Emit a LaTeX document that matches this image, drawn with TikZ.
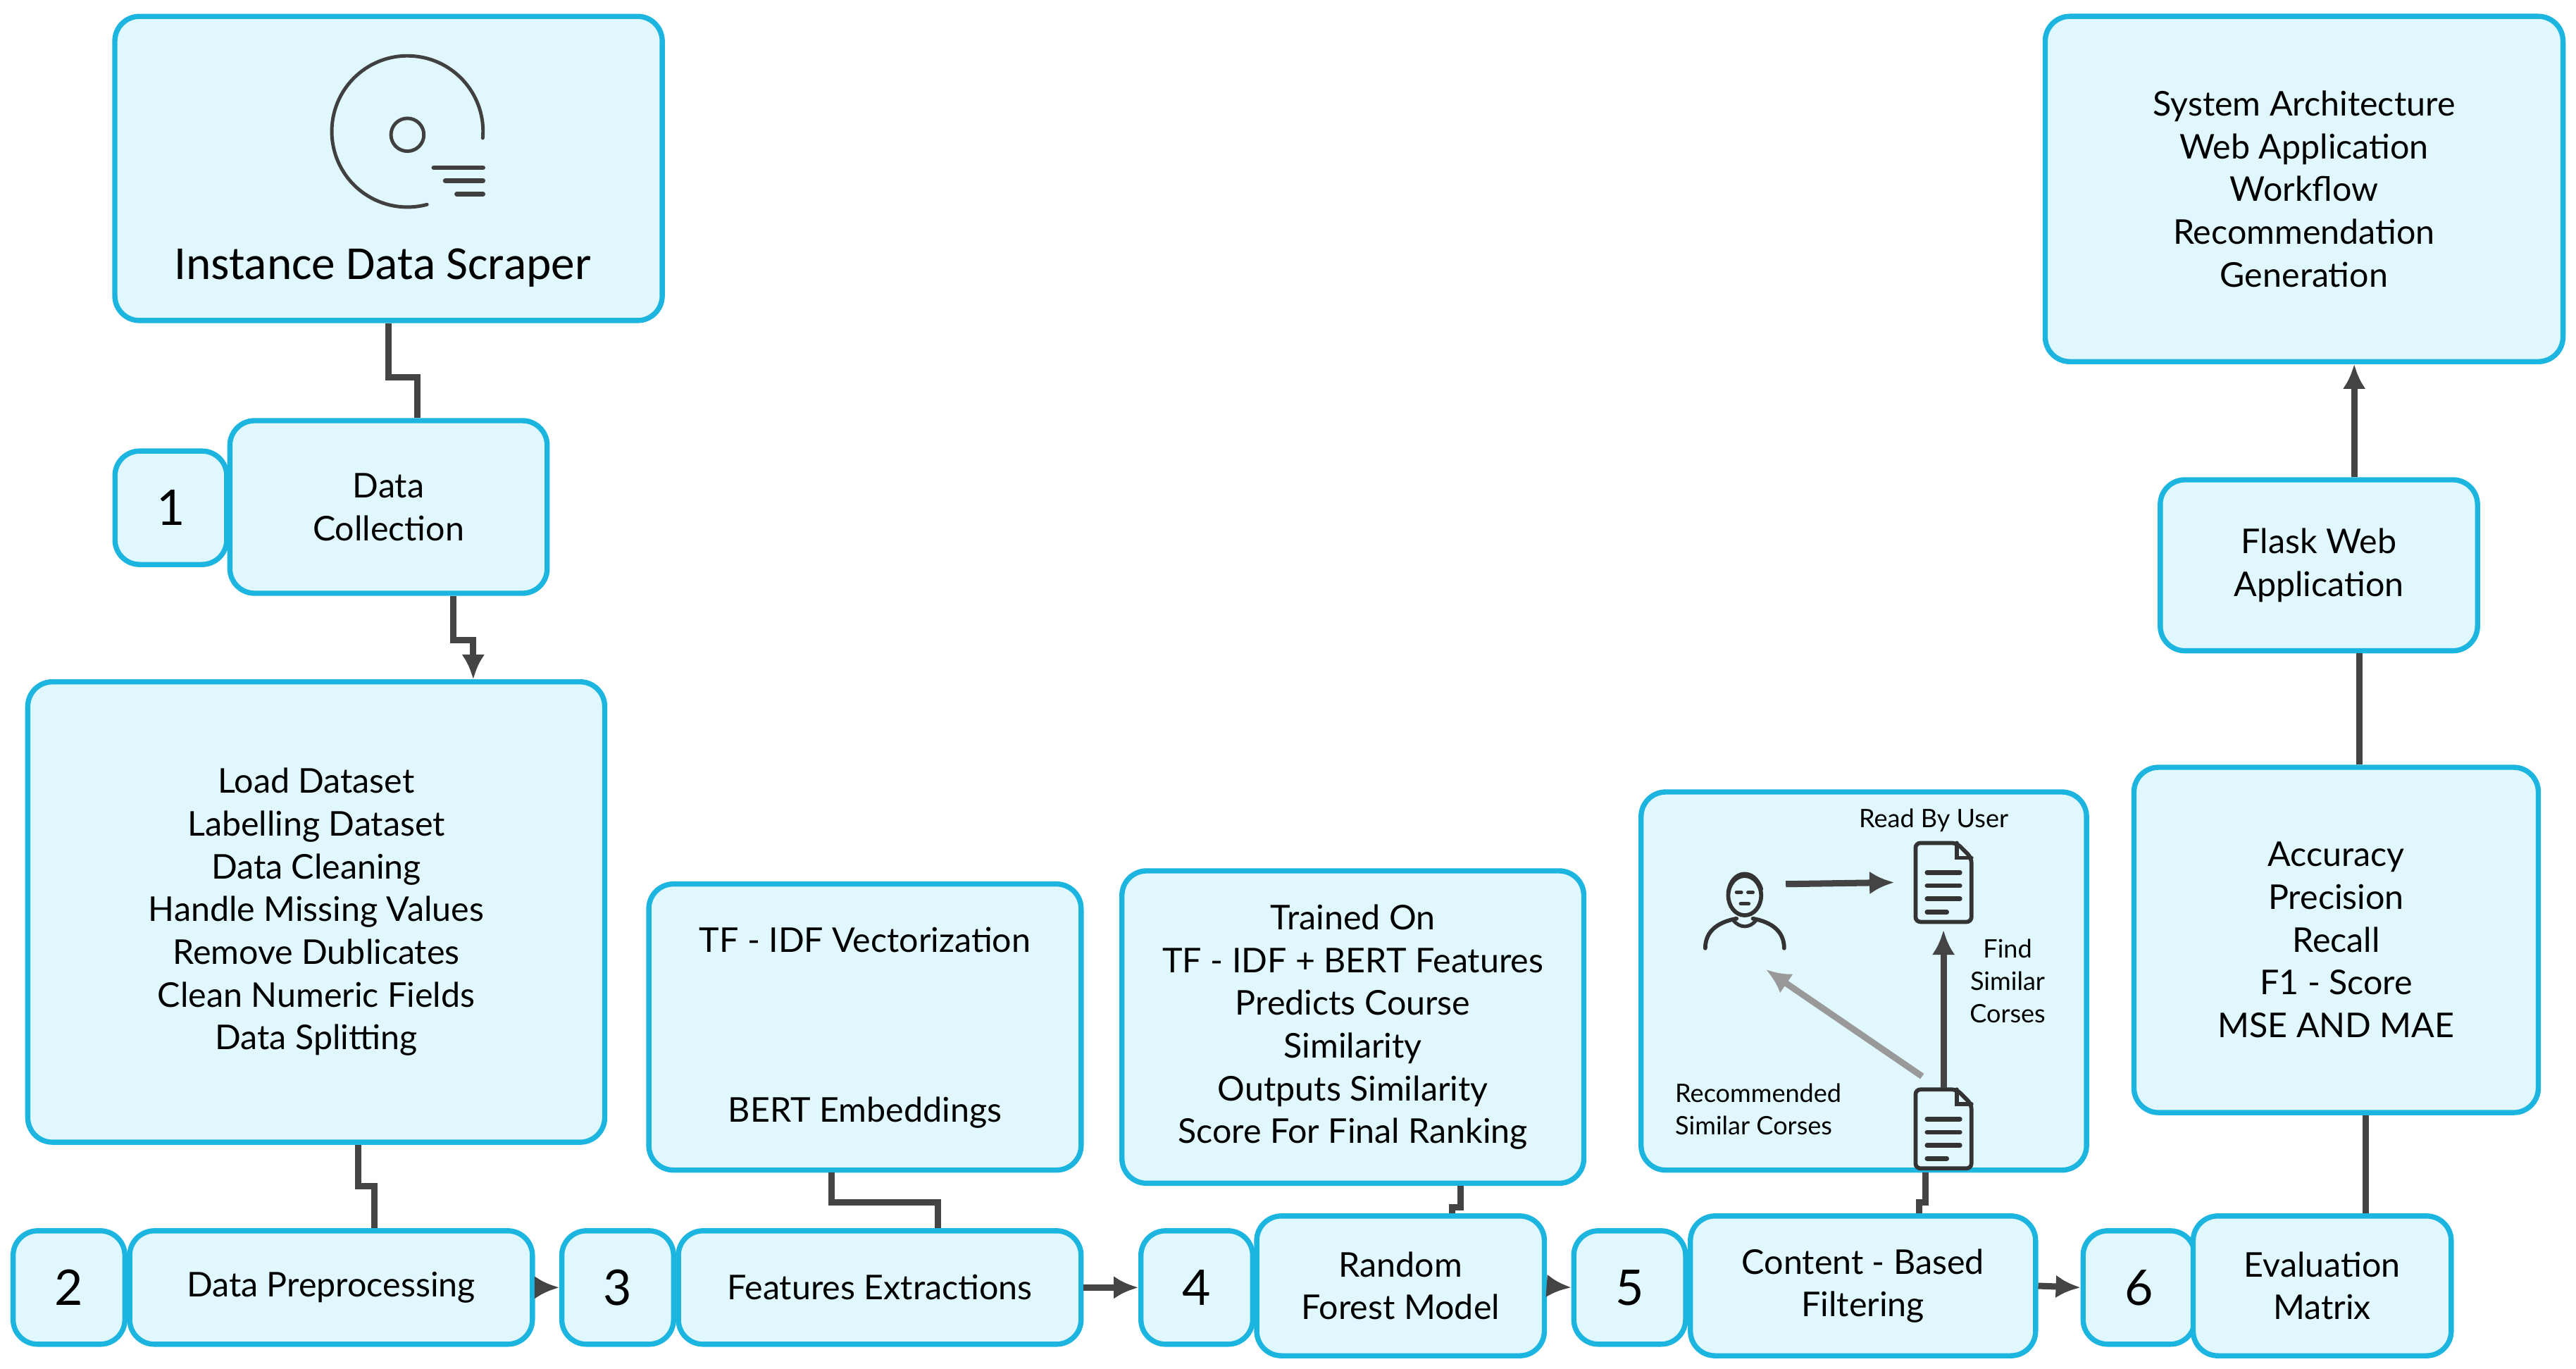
\documentclass[tikz,border=0pt]{standalone}
\usepackage{fontspec}
\setmainfont{Lato}
\newfontfamily\scrfont{Carlito}
\usetikzlibrary{arrows.meta,positioning}
\definecolor{boxline}{HTML}{1BB5E0}
\definecolor{boxfill}{HTML}{E0F7FD}
\definecolor{linkgray}{HTML}{444444}
\tikzset{
  box/.style={draw=boxline,fill=boxfill,line width=0.9pt,rounded corners=0.15cm,align=center,
    font=\fontsize{5.9pt}{7.4pt}\selectfont,inner sep=0pt},
  num/.style={box,minimum width=0.68cm,minimum height=0.69cm,font=\fontsize{8.5pt}{10pt}\selectfont},
  link/.style={draw=linkgray,line width=1.1pt},
  arr/.style={link,-{Latex[length=0.15cm,width=0.14cm]}},
  icon/.style={draw=black!80,line width=0.6pt,line cap=round},
  small/.style={font=\fontsize{4.4pt}{5.6pt}\selectfont,align=center,inner sep=0pt}
}
\newcommand{\docicon}{%
  \draw[icon,line width=0.7pt,rounded corners=0.03cm] (-0.17,-0.24) -- (-0.17,0.24) -- (0.08,0.24) -- (0.17,0.15) -- (0.17,-0.24) -- cycle;
  \draw[icon,line width=0.7pt] (0.08,0.24) -- (0.08,0.15) -- (0.17,0.15);
  \foreach \y in {0.06,-0.02,-0.10} {\draw[icon,line width=0.8pt] (-0.1,\y) -- (0.1,\y);}
  \draw[icon,line width=0.8pt] (-0.1,-0.18) -- (0.02,-0.18);
}
\begin{document}
\begin{tikzpicture}[x=0.01cm,y=-0.01cm]
\useasboundingbox (0,0) rectangle (1568,833);
% top left
\node[box,minimum width=3.33cm,minimum height=1.85cm] (scr) at (236.5,102.5) {};
\node[font=\scrfont\fontsize{8.2pt}{10pt}\selectfont] (scrtxt) at (233,163) {Instance Data Scraper};
\begin{scope}[shift={(248,80)},x=1cm,y=1cm]
\draw[icon,draw=black!75] (-5:0.46) arc (-5:285:0.46);
\draw[icon,draw=black!75] (0,-0.02) circle (0.1);
\draw[icon,draw=black!75,line width=0.8pt] (0.16,-0.22) -- (0.46,-0.22) (0.23,-0.30) -- (0.46,-0.30) (0.30,-0.38) -- (0.46,-0.38);
\end{scope}
\node[num] (n1) at (104,309) {1};
\node[box,minimum width=1.93cm,minimum height=1.05cm] (col) at (236.5,308.5) {Data\\Collection};
\node[box,minimum width=3.51cm,minimum height=2.80cm] (pre) at (192.5,555) {Load Dataset\\Labelling Dataset\\Data Cleaning\\Handle Missing Values\\Remove Dublicates\\Clean Numeric Fields\\Data Splitting};
% bottom row
\node[num] (n2) at (42,783.5) {2};
\node[box,minimum width=2.45cm,minimum height=0.69cm] (dp) at (201.5,783.5) {Data Preprocessing};
\node[num] (n3) at (376,783.5) {3};
\node[box,minimum width=2.45cm,minimum height=0.69cm] (fe) at (535.5,783.5) {Features Extractions};
\node[num] (n4) at (728.5,783.5) {4};
\node[box,minimum width=1.75cm,minimum height=0.85cm] (rf) at (852.5,782.5) {Random\\Forest Model};
\node[num] (n5) at (992,783.5) {5};
\node[box,minimum width=2.10cm,minimum height=0.85cm] (cb) at (1134,782.5) {Content - Based\\Filtering};
\node[num] (n6) at (1302,783.5) {6};
\node[box,minimum width=1.57cm,minimum height=0.85cm] (ev) at (1413.5,782.5) {Evaluation\\Matrix};
% middle boxes
\node[box,minimum width=2.63cm,minimum height=1.74cm] (tf) at (526.5,625) {};
\node[font=\fontsize{5.9pt}{7.4pt}\selectfont] (tfa) at (526.5,572) {TF - IDF Vectorization};
\node[font=\fontsize{5.9pt}{7.4pt}\selectfont] (tfb) at (526.5,677) {BERT Embeddings};
\node[box,minimum width=2.81cm,minimum height=1.90cm] (tr) at (823.5,625) {Trained On\\TF - IDF + BERT Features\\Predicts Course\\Similarity\\Outputs Similarity\\Score For Final Ranking};
\node[box,minimum width=2.71cm,minimum height=2.30cm] (cf) at (1134.5,597) {};
\node[box,minimum width=2.46cm,minimum height=2.10cm] (me) at (1422,572) {Accuracy\\Precision\\Recall\\F1 - Score\\MSE AND MAE};
\node[box,minimum width=1.93cm,minimum height=1.04cm] (fl) at (1411.5,344) {Flask Web\\Application};
\node[box,minimum width=3.15cm,minimum height=2.10cm] (sy) at (1402.5,115) {System Architecture\\Web Application\\Workflow\\Recommendation\\Generation};
% content box inside
\coordinate (user) at (1062,553);
\coordinate (doca) at (1183,537);
\coordinate (docb) at (1183,687);
\begin{scope}[shift={(user)},x=1cm,y=1cm]
\draw[icon,line width=0.7pt] (0,0.08) ellipse (0.1 and 0.12);
\draw[icon,line width=0.7pt] (-0.1,0.1) .. controls (-0.08,0.24) and (0.06,0.25) .. (0.1,0.12);
\draw[icon,line width=0.6pt] (-0.05,0.1) -- (-0.02,0.1) (0.02,0.1) -- (0.05,0.1) (-0.025,0.03) -- (0.025,0.03);
\draw[icon,line width=0.7pt] (-0.24,-0.24) .. controls (-0.24,-0.1) and (-0.1,-0.07) .. (-0.05,-0.06);
\draw[icon,line width=0.7pt] (0.24,-0.24) .. controls (0.24,-0.1) and (0.1,-0.07) .. (0.05,-0.06);
\draw[icon,line width=0.6pt] (-0.07,-0.07) .. controls (-0.03,-0.12) and (0.03,-0.12) .. (0.07,-0.07);
\end{scope}
\begin{scope}[shift={(doca)},x=1cm,y=1cm]\docicon\end{scope}
\begin{scope}[shift={(docb)},x=1cm,y=1cm]\docicon\end{scope}
\node[small] (rbu) at (1177,499) {Read By User};
\node[small] (fsc) at (1222,597) {Find\\Similar\\Corses};
\node[small,align=left,anchor=west] (rsc) at (1019,675) {Recommended\\Similar Corses};
\draw[arr,line width=1.1pt] ([xshift=0.25cm,yshift=0.15cm]user) -- ([xshift=-0.3cm]doca);
\draw[arr,line width=1.1pt] ([yshift=0.25cm]docb) -- ([yshift=-0.29cm]doca);
\draw[arr,line width=1.1pt,draw=gray!80] ([xshift=-0.13cm,yshift=0.32cm]docb) -- ([xshift=0.13cm,yshift=-0.37cm]user);
% connectors
\draw[link] (scr.south) -- ++(0,33) -| ([xshift=0.175cm]col.north);
\draw[arr] ([xshift=0.395cm]col.south) -- ++(0,27) -| ([xshift=0.955cm]pre.north);
\draw[link] ([xshift=0.255cm]pre.south) -- ++(0,25) -| ([xshift=0.265cm]dp.north);
\draw[arr] (dp.east) -- (n3.west);
\draw[link] ([xshift=-0.205cm]tf.south) -- ++(0,18) -| ([xshift=0.355cm]fe.north);
\draw[arr] (fe.east) -- (n4.west);
\draw[link] ([xshift=0.655cm]tr.south) -- ++(0,13) -| ([xshift=0.315cm]rf.north);
\draw[arr] (rf.east) -- (n5.west);
\draw[link] ([xshift=0.375cm]cf.south) -- ++(0,18) -| ([xshift=0.34cm]cb.north);
\draw[arr] (cb.east) -- (n6.west);
\draw[link] ([xshift=0.265cm]ev.north) -- ([xshift=0.265cm]ev.north |- me.south);
\draw[link] ([xshift=0.14cm]me.north) -- ([xshift=0.14cm]me.north |- fl.south);
\draw[arr] ([xshift=0.215cm]fl.north) -- ([xshift=0.215cm]fl.north |- sy.south);
\end{tikzpicture}
\end{document}
